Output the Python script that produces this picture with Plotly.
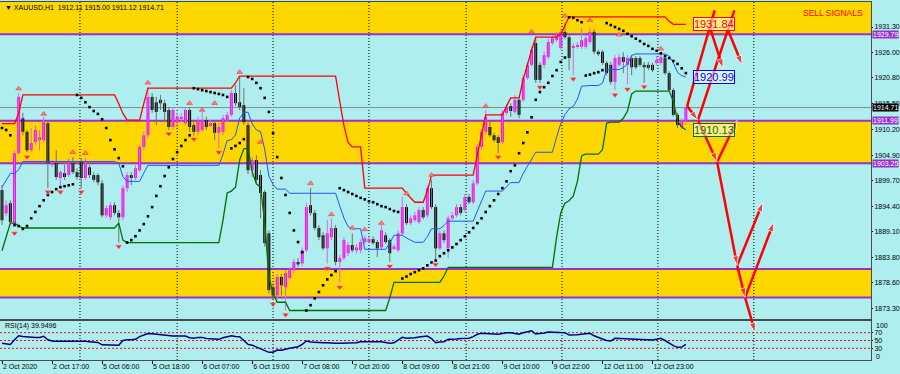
import plotly.graph_objects as go

# ---------------- data (XAUUSD H1) ----------------
open_ = [
    1897.7, 1892.9, 1895.0, 1890.9, 1905.3, 1912.5, 1909.7, 1905.9, 1907.6, 1908.0,
    1908.0, 1911.5, 1902.9, 1903.3, 1900.2, 1901.2, 1900.8, 1903.3, 1901.4, 1903.5,
    1900.2, 1902.4, 1900.8, 1900.8, 1899.1, 1892.5, 1892.1, 1894.6, 1893.0, 1892.1,
    1898.1, 1900.8, 1900.2, 1901.8, 1906.6, 1909.0, 1916.9, 1915.8, 1916.3, 1915.6,
    1914.2, 1910.7, 1911.7, 1912.3, 1911.5, 1914.2, 1911.1, 1909.7, 1910.1, 1912.1,
    1911.1, 1911.5, 1909.5, 1909.7, 1912.1, 1913.2, 1917.7, 1915.8, 1915.2, 1911.1,
    1901.8, 1903.9, 1900.8, 1897.3, 1888.8, 1877.7, 1876.0, 1879.8, 1877.7, 1879.6,
    1881.2, 1882.9, 1882.6, 1885.3, 1894.6, 1893.0, 1889.9, 1888.4, 1885.7, 1888.0,
    1889.9, 1882.9, 1883.7, 1884.7, 1886.4, 1885.3, 1885.3, 1887.0, 1887.2, 1887.6,
    1887.0, 1885.9, 1888.4, 1887.4, 1885.7, 1885.3, 1888.8, 1894.2, 1890.9, 1891.5,
    1891.1, 1893.6, 1892.5, 1898.1, 1894.2, 1885.7, 1888.8, 1885.7, 1891.9, 1892.5,
    1894.2, 1893.6, 1896.3, 1895.2, 1899.1, 1906.6, 1909.7, 1910.7, 1909.0, 1908.6,
    1907.6, 1913.6, 1915.0, 1913.8, 1916.3, 1916.3, 1920.8, 1923.5, 1928.0, 1923.5,
    1923.5, 1925.1, 1928.0, 1928.6, 1927.0, 1930.3, 1929.2, 1927.0, 1927.2, 1927.2,
    1927.2, 1928.2, 1930.3, 1926.2, 1926.2, 1923.9, 1923.5, 1920.0, 1923.5, 1925.1,
    1923.5, 1924.9, 1924.9, 1924.9, 1923.5, 1923.5, 1923.5, 1923.9, 1923.9, 1924.9,
    1921.8, 1918.3, 1913.2, 1910.7, 1912.11,
]
high = [
    1898.7, 1895.6, 1895.6, 1905.9, 1917.7, 1913.6, 1910.1, 1910.5, 1911.1, 1910.1,
    1912.8, 1912.1, 1903.9, 1905.9, 1901.8, 1902.9, 1904.3, 1904.5, 1902.2, 1904.3,
    1904.3, 1902.9, 1901.4, 1901.2, 1899.8, 1894.6, 1895.2, 1895.2, 1893.6, 1898.7,
    1901.4, 1901.4, 1902.9, 1907.0, 1909.7, 1918.9, 1917.7, 1916.9, 1917.3, 1916.3,
    1914.8, 1914.8, 1913.6, 1913.6, 1914.8, 1914.8, 1911.7, 1912.8, 1913.8, 1912.8,
    1912.1, 1912.1, 1911.5, 1913.2, 1913.8, 1918.3, 1919.3, 1921.0, 1918.7, 1911.7,
    1904.5, 1904.9, 1901.8, 1897.7, 1889.4, 1878.5, 1880.4, 1880.4, 1881.2, 1881.8,
    1883.5, 1883.7, 1885.9, 1895.0, 1898.1, 1893.6, 1890.5, 1889.0, 1891.5, 1891.9,
    1890.5, 1884.3, 1888.0, 1887.0, 1888.8, 1886.6, 1887.6, 1888.4, 1888.0, 1888.2,
    1887.4, 1890.5, 1889.0, 1887.8, 1886.6, 1889.4, 1896.3, 1894.8, 1892.5, 1893.2,
    1894.2, 1894.2, 1898.7, 1899.8, 1894.8, 1889.4, 1889.4, 1892.5, 1893.2, 1894.8,
    1894.8, 1896.9, 1896.9, 1899.8, 1907.2, 1910.3, 1914.2, 1912.1, 1909.5, 1909.0,
    1914.2, 1915.4, 1915.6, 1917.3, 1916.9, 1921.4, 1924.1, 1927.2, 1929.0, 1924.1,
    1926.2, 1928.8, 1929.6, 1930.3, 1931.0, 1932.1, 1929.6, 1928.0, 1928.2, 1931.1,
    1929.6, 1931.1, 1930.9, 1926.6, 1926.6, 1924.3, 1924.1, 1925.5, 1925.7, 1926.1,
    1925.5, 1925.5, 1925.3, 1925.3, 1924.1, 1924.1, 1923.9, 1925.3, 1925.7, 1925.5,
    1922.2, 1918.7, 1913.6, 1912.5, 1915.00,
]
low = [
    1890.5, 1892.3, 1890.5, 1890.5, 1904.9, 1909.0, 1905.5, 1905.5, 1907.0, 1905.9,
    1907.6, 1898.1, 1902.4, 1899.8, 1898.1, 1899.8, 1900.4, 1901.0, 1899.8, 1898.1,
    1899.8, 1900.2, 1899.3, 1898.7, 1892.1, 1891.9, 1891.5, 1892.5, 1886.9, 1891.5,
    1897.3, 1898.7, 1899.8, 1901.4, 1906.0, 1908.4, 1913.6, 1911.1, 1914.2, 1911.7,
    1910.1, 1910.1, 1910.7, 1911.7, 1911.1, 1909.7, 1909.0, 1909.0, 1909.7, 1910.1,
    1910.7, 1908.0, 1906.3, 1909.0, 1911.7, 1912.8, 1915.0, 1914.2, 1911.1, 1901.0,
    1900.4, 1899.1, 1891.9, 1886.1, 1876.4, 1875.2, 1875.2, 1876.0, 1872.9, 1879.1,
    1880.6, 1881.8, 1882.0, 1884.9, 1892.5, 1889.4, 1887.4, 1885.3, 1882.6, 1887.4,
    1882.2, 1878.5, 1883.3, 1884.1, 1884.9, 1884.7, 1884.7, 1886.6, 1886.8, 1886.4,
    1883.9, 1885.5, 1886.6, 1882.9, 1885.3, 1884.9, 1888.4, 1890.5, 1890.5, 1891.1,
    1890.7, 1891.7, 1892.1, 1893.8, 1883.3, 1885.3, 1886.8, 1883.7, 1891.5, 1892.1,
    1892.5, 1893.2, 1894.8, 1894.8, 1898.7, 1906.0, 1909.2, 1908.6, 1907.6, 1905.3,
    1907.2, 1913.2, 1912.8, 1913.4, 1912.5, 1915.8, 1920.4, 1923.1, 1919.8, 1919.8,
    1922.8, 1924.7, 1927.6, 1928.2, 1926.6, 1928.8, 1922.4, 1921.4, 1926.8, 1926.8,
    1926.8, 1927.8, 1925.7, 1925.3, 1923.5, 1921.4, 1919.4, 1918.3, 1923.1, 1921.8,
    1919.5, 1921.4, 1922.6, 1923.1, 1919.8, 1922.4, 1922.0, 1923.5, 1923.5, 1921.4,
    1917.9, 1912.8, 1910.5, 1910.3, 1911.12,
]
close = [
    1891.5, 1894.6, 1891.1, 1905.3, 1916.9, 1909.7, 1905.9, 1907.4, 1910.1, 1908.6,
    1911.7, 1903.3, 1903.5, 1900.4, 1901.4, 1900.4, 1903.5, 1901.4, 1900.4, 1900.2,
    1903.3, 1900.8, 1899.8, 1899.3, 1892.5, 1894.0, 1894.6, 1893.0, 1892.1, 1898.1,
    1900.8, 1900.2, 1902.2, 1906.6, 1909.0, 1916.9, 1914.2, 1913.8, 1915.6, 1913.8,
    1910.7, 1914.2, 1912.8, 1912.8, 1914.2, 1910.7, 1909.7, 1912.1, 1912.1, 1910.7,
    1911.5, 1909.5, 1910.7, 1912.5, 1913.2, 1917.7, 1915.6, 1914.8, 1911.7, 1901.8,
    1903.9, 1899.8, 1897.1, 1886.8, 1877.1, 1876.0, 1879.8, 1878.1, 1880.6, 1881.2,
    1882.9, 1882.4, 1885.3, 1894.2, 1893.0, 1889.9, 1888.0, 1885.7, 1888.8, 1889.9,
    1882.9, 1883.7, 1887.4, 1886.4, 1885.3, 1885.9, 1887.0, 1887.8, 1887.6, 1886.8,
    1885.7, 1889.4, 1887.0, 1884.7, 1886.1, 1888.8, 1894.2, 1890.9, 1891.9, 1892.5,
    1893.6, 1892.1, 1898.1, 1894.2, 1885.7, 1888.8, 1887.4, 1891.9, 1892.5, 1894.2,
    1893.0, 1896.3, 1895.2, 1899.1, 1906.6, 1909.7, 1912.8, 1909.0, 1908.0, 1907.4,
    1913.6, 1914.8, 1914.0, 1916.3, 1913.2, 1920.8, 1923.5, 1926.6, 1920.4, 1920.4,
    1925.5, 1928.2, 1929.0, 1929.7, 1930.3, 1929.2, 1924.9, 1927.4, 1927.6, 1928.6,
    1929.0, 1930.3, 1926.2, 1925.7, 1923.9, 1921.8, 1920.0, 1924.9, 1925.1, 1924.1,
    1924.9, 1923.0, 1923.0, 1923.5, 1923.0, 1922.9, 1922.4, 1924.5, 1925.1, 1921.8,
    1918.3, 1913.2, 1911.1, 1912.1, 1914.71,
]
# upper channel (red), lower channel (green)
red_line = [
    1911.4, 1911.4, 1911.4, 1911.4, 1913.5, 1917.3, 1917.3, 1917.3, 1917.3, 1917.3,
    1917.3, 1917.3, 1917.3, 1917.3, 1917.3, 1917.3, 1917.3, 1917.3, 1917.3, 1917.3,
    1917.3, 1917.3, 1917.3, 1917.3, 1917.3, 1917.3, 1917.3, 1917.3, 1915.5, 1913.5,
    1912.1, 1912.1, 1912.1, 1912.1, 1915.5, 1918.7, 1918.7, 1918.7, 1918.7, 1918.7,
    1918.7, 1918.7, 1918.7, 1918.7, 1918.7, 1918.7, 1918.7, 1918.7, 1918.7, 1918.7,
    1918.7, 1918.7, 1918.7, 1918.7, 1918.7, 1918.7, 1919.8, 1921.2, 1921.2, 1921.2,
    1921.2, 1921.2, 1921.2, 1921.2, 1921.2, 1921.2, 1921.2, 1921.2, 1921.2, 1921.2,
    1921.2, 1921.2, 1921.2, 1921.2, 1921.2, 1921.2, 1921.2, 1921.2, 1921.2, 1921.2,
    1921.2, 1916.0, 1911.0, 1907.5, 1906.6, 1906.6, 1906.6, 1898.1, 1898.1, 1898.1,
    1898.1, 1898.1, 1898.1, 1898.1, 1898.1, 1898.1, 1898.1, 1897.0, 1896.0, 1895.2,
    1895.2, 1895.2, 1897.5, 1900.8, 1900.8, 1900.8, 1900.8, 1900.8, 1900.8, 1900.8,
    1900.8, 1900.8, 1900.8, 1900.8, 1905.0, 1909.0, 1913.2, 1913.2, 1913.2, 1913.2,
    1913.2, 1915.0, 1916.7, 1916.7, 1916.7, 1920.5, 1923.6, 1926.5, 1929.2, 1929.2,
    1929.2, 1929.2, 1929.2, 1929.2, 1929.8, 1931.5, 1933.4, 1933.4, 1933.4, 1933.4,
    1933.4, 1933.4, 1933.4, 1933.4, 1933.4, 1933.4, 1933.4, 1933.4, 1933.4, 1933.4,
    1933.4, 1933.4, 1933.4, 1933.4, 1933.4, 1933.4, 1933.4, 1933.4, 1933.4, 1933.4,
    1932.5, 1931.84, 1931.84, 1931.84, 1931.84,
]
green_line = [
    1885.2, 1888.0, 1890.9, 1890.9, 1890.3, 1889.9, 1889.9, 1889.9, 1889.9, 1889.9,
    1889.9, 1889.9, 1889.9, 1889.9, 1889.9, 1889.9, 1889.9, 1889.9, 1889.9, 1889.9,
    1889.9, 1889.9, 1889.9, 1889.9, 1889.9, 1889.9, 1889.9, 1889.9, 1890.9, 1887.4,
    1886.9, 1886.9, 1886.9, 1886.9, 1886.9, 1886.9, 1886.9, 1886.9, 1886.9, 1886.9,
    1886.9, 1886.9, 1886.9, 1886.9, 1886.9, 1886.9, 1886.9, 1886.9, 1886.9, 1886.9,
    1886.9, 1886.9, 1886.9, 1891.5, 1897.1, 1897.5, 1898.3, 1903.9, 1906.2, 1906.3,
    1901.5, 1899.0, 1898.3, 1891.0, 1880.0, 1876.5, 1874.6, 1874.6, 1874.6, 1872.9,
    1872.9, 1872.9, 1872.9, 1872.9, 1872.9, 1872.9, 1872.9, 1872.9, 1872.9, 1872.9,
    1872.9, 1872.9, 1872.9, 1872.9, 1872.9, 1872.9, 1872.9, 1872.9, 1872.9, 1872.9,
    1872.9, 1872.9, 1872.9, 1875.5, 1878.7, 1878.7, 1878.7, 1878.7, 1878.7, 1878.7,
    1878.7, 1878.7, 1878.7, 1878.7, 1878.7, 1878.7, 1880.0, 1881.8, 1881.8, 1881.8,
    1881.8, 1881.8, 1881.8, 1881.8, 1881.8, 1881.8, 1881.8, 1881.8, 1881.8, 1881.8,
    1881.8, 1881.8, 1881.8, 1881.8, 1881.8, 1881.8, 1881.8, 1881.8, 1881.8, 1881.8,
    1881.8, 1881.8, 1881.8, 1888.0, 1893.0, 1895.0, 1895.5, 1896.5, 1899.5, 1904.8,
    1905.1, 1905.1, 1905.1, 1905.1, 1906.0, 1911.5, 1911.7, 1911.7, 1911.7, 1912.5,
    1914.0, 1917.5, 1918.1, 1918.1, 1918.1, 1918.1, 1918.1, 1918.1, 1918.1, 1918.1,
    1918.1, 1916.0, 1912.0, 1910.7, 1910.13,
]
# parabolic SAR dots
sar = [
    1910.5, 1910.1, 1909.0, 1890.5, 1890.3, 1889.7, 1890.3, 1891.9, 1893.2, 1894.4,
    1895.6, 1896.7, 1897.3, 1897.9, 1898.3, 1898.5, 1898.7, 1898.9, 1917.3, 1916.7,
    1915.8, 1914.8, 1914.0, 1913.4, 1912.3, 1910.5, 1908.0, 1906.1, 1904.3, 1902.6,
    1886.9, 1887.4, 1888.2, 1889.4, 1890.7, 1892.3, 1894.2, 1896.5, 1898.5, 1900.6,
    1902.4, 1904.1, 1905.5, 1906.8, 1908.0, 1909.0, 1918.7, 1918.5, 1918.3, 1918.1,
    1917.9, 1917.7, 1917.5, 1917.3, 1916.9, 1906.3, 1906.8, 1907.4, 1908.2, 1921.0,
    1920.6, 1919.8, 1918.7, 1916.7, 1913.8, 1909.4, 1904.5, 1900.2, 1896.7, 1893.0,
    1889.4, 1887.0, 1884.9, 1872.9, 1874.0, 1875.4, 1876.7, 1878.1, 1879.3, 1880.2,
    1881.0, 1898.1, 1897.7, 1897.3, 1896.9, 1896.5, 1896.1, 1895.8, 1895.4, 1895.2,
    1894.8, 1894.4, 1894.2, 1893.8, 1893.4, 1893.2, 1879.5, 1879.9, 1880.4, 1880.8,
    1881.2, 1881.6, 1882.2, 1882.8, 1883.2, 1884.1, 1884.7, 1885.3, 1885.9, 1886.6,
    1887.4, 1888.2, 1889.0, 1889.9, 1890.9, 1891.9, 1893.2, 1894.4, 1895.6, 1896.9,
    1898.1, 1899.5, 1901.6, 1902.8, 1905.3, 1907.4, 1909.6, 1912.7, 1916.3, 1917.9,
    1918.9, 1919.8, 1921.2, 1922.4, 1924.1, 1925.0, 1933.3, 1933.2, 1932.7, 1932.3,
    1921.3, 1921.5, 1921.8, 1922.0, 1922.4, 1932.1, 1931.7, 1931.3, 1930.9, 1930.5,
    1929.9, 1929.4, 1928.9, 1928.4, 1927.8, 1927.4, 1926.8, 1926.4, 1925.9, 1925.3,
    1924.9, 1924.3, 1923.7, 1922.8, 1921.8,
]
rsi = [
    43, 41, 40, 52, 62, 60, 59, 58, 58, 58,
    61, 52, 49, 48, 48, 48, 49, 48, 48, 48,
    48, 47, 46, 45, 39, 38.5, 39, 38.5, 38, 50,
    52, 52, 53, 60, 64, 68, 67, 66, 65, 63,
    61.5, 61.5, 61.5, 61.5, 61.5, 57, 55.6, 58, 58, 55,
    54, 53, 53, 57, 59, 62, 60, 59.8, 50, 40,
    38, 33, 30, 24, 19.7, 20, 25.6, 25, 28, 30,
    32, 34, 40, 48.7, 46, 45, 44, 44, 44.5, 43,
    42.8, 42.8, 42.8, 42.8, 42.8, 44, 47, 47, 47, 47,
    47, 47, 45, 42.8, 44, 50, 58, 56, 55.6, 57,
    59, 60, 61.5, 55, 44.4, 46, 47, 53, 53, 54,
    55, 55.6, 56, 60, 66, 68.4, 68, 66, 66, 66,
    68, 70, 70, 68, 66, 70, 73, 75, 66.7, 67,
    69, 71.8, 71.8, 71.8, 71.8, 70, 64, 64, 65, 66,
    67, 68.4, 62, 57, 54, 50, 48.7, 55.6, 55, 54,
    54, 53, 53, 52, 51, 51, 51, 53, 55.6, 50,
    43, 37, 32.5, 33, 39.95,
]
# fractal arrows above highs / below lows
up_idx = [4, 10, 17, 20, 35, 45, 48, 51, 57, 62, 74, 79, 84, 87, 91, 97, 103, 116, 127, 135, 141, 148, 158]
up_price = [1918.6, 1913.4, 1905.5, 1905.3, 1919.8, 1915.6, 1914.2, 1915.6, 1922.0, 1907.6, 1899.1, 1892.7,
            1889.9, 1889.6, 1890.9, 1897.0, 1900.8, 1915.0, 1930.3, 1933.6, 1932.7, 1929.7, 1926.8]
dn_idx = [3, 6, 11, 14, 19, 28, 40, 46, 52, 65, 68, 78, 81, 93, 104, 119, 129, 137, 147, 150, 154]
dn_price = [1888.8, 1904.5, 1897.3, 1897.3, 1897.3, 1886.1, 1909.3, 1908.2, 1905.5, 1874.2, 1872.0, 1881.6,
            1877.7, 1882.0, 1882.4, 1904.5, 1918.9, 1920.6, 1917.3, 1918.5, 1919.0]

# forecast arrows (tail -> head)
arrow_x0 = [164.3, 164.3, 166.9, 169.8, 174.1, 166.9, 171.5, 171.5, 176.3, 176.3, 178.2, 178.2]
arrow_y0 = [1915.0, 1915.0, 1912.1, 1931.1, 1930.7, 1912.1, 1903.5, 1903.5, 1882.2, 1882.2, 1875.6, 1875.6]
arrow_x1 = [166.9, 171.5, 176.3, 172.9, 177.5, 171.5, 176.3, 176.3, 182.5, 178.2, 185.1, 180.6]
arrow_y1 = [1912.1, 1936.5, 1936.5, 1922.8, 1923.5, 1903.5, 1912.1, 1882.2, 1895.2, 1875.6, 1891.1, 1868.4]

time_idx = [0, 12, 24, 36, 48, 60, 72, 84, 96, 108, 120, 132, 144, 156]
time_labels = ["2 Oct 2020", "2 Oct 17:00", "5 Oct 06:00", "5 Oct 18:00", "6 Oct 07:00", "6 Oct 19:00",
               "7 Oct 08:00", "7 Oct 20:00", "8 Oct 09:00", "8 Oct 21:00", "9 Oct 10:00", "9 Oct 22:00",
               "12 Oct 11:00", "12 Oct 23:00"]
grid_idx = [18.7, 42.0, 65.0, 88.0, 111.3, 134.3, 157.3, 180.3]
price_ticks = [1873.30, 1878.60, 1883.80, 1889.10, 1894.40, 1899.70, 1904.90, 1910.20,
               1915.50, 1920.80, 1926.00, 1931.30]
zone_lo = [1929.79, 1903.25, 1875.60]
zone_hi = [1940.00, 1911.99, 1881.45]
level_lines = [1929.79, 1911.99, 1903.25, 1881.45, 1875.60]
level_labels = [1929.79, 1911.99, 1903.25]
bid_price = 1914.71
rsi_levels = [70, 50, 30]
rsi_ticks = [30, 50, 70]

# ---------------- geometry / style ----------------
FW, FH = 900, 374
PLOT_R = 871 / FW
MAIN_DOM = [1 - 319 / FH, 1 - 2 / FH]
RSI_DOM = [1 - 360 / FH, 1 - 321 / FH]
X_RANGE = [-0.48, 208.4]
Y_RANGE = [1871.15, 1936.45]
per_paper = (Y_RANGE[1] - Y_RANGE[0]) / (MAIN_DOM[1] - MAIN_DOM[0])
Y3_RANGE = [Y_RANGE[0] - MAIN_DOM[0] * per_paper, Y_RANGE[1]]

BG = "#AFEEEE"
GOLD = "#FFD700"
PURPLE = "#9932CC"
FRAME = "#4A4A4A"
NARROW = "Liberation Sans Narrow, Arial Narrow, Liberation Sans, Arial, sans-serif"
AXFONT = dict(family=NARROW, size=7, color="black")

n = len(close)
bars = list(range(n))
blue_line = [(r + g) / 2 for r, g in zip(red_line, green_line)]

fig = go.Figure()

# wicks
def wicks(sel):
    xs, ys = [], []
    for i in sel:
        xs += [i, i, None]
        ys += [low[i], high[i], None]
    return xs, ys

bull = [i for i in bars if close[i] >= open_[i]]
bear = [i for i in bars if close[i] < open_[i]]
wx, wy = wicks(bear)
fig.add_trace(go.Scatter(x=wx, y=wy, mode="lines", line=dict(color="#707070", width=1), hoverinfo="skip"))
wx, wy = wicks(bull)
fig.add_trace(go.Scatter(x=wx, y=wy, mode="lines", line=dict(color="#D070D0", width=1), hoverinfo="skip"))

# bodies
bases = [min(o, c) for o, c in zip(open_, close)]
heights = [max(abs(c - o), 0.2) for o, c in zip(open_, close)]
colors = ["#FF00FF" if c >= o else "#000000" for o, c in zip(open_, close)]
fig.add_trace(go.Bar(x=bars, y=heights, base=bases, width=0.7,
                     marker=dict(color=colors, line=dict(width=0)), hoverinfo="skip"))

# channel lines
fig.add_trace(go.Scatter(x=bars, y=red_line, mode="lines", line=dict(color="#FF0000", width=1.3), hoverinfo="skip"))
fig.add_trace(go.Scatter(x=bars, y=blue_line, mode="lines", line=dict(color="#2255FF", width=1), hoverinfo="skip"))
fig.add_trace(go.Scatter(x=bars, y=green_line, mode="lines", line=dict(color="#007000", width=1.3), hoverinfo="skip"))

# SAR
fig.add_trace(go.Scatter(x=bars, y=sar, mode="markers",
                         marker=dict(symbol="square", size=2.6, color="black"), hoverinfo="skip"))

# fractal arrows
fig.add_trace(go.Scatter(x=up_idx, y=up_price, mode="markers",
                         marker=dict(symbol="triangle-up", size=5, color="#F08090",
                                     line=dict(color="#FF3030", width=0.6)), hoverinfo="skip"))
fig.add_trace(go.Scatter(x=dn_idx, y=dn_price, mode="markers",
                         marker=dict(symbol="triangle-down", size=5, color="#FF2020",
                                     line=dict(color="#F08080", width=0.6)), hoverinfo="skip"))

# RSI
fig.add_trace(go.Scatter(x=bars, y=rsi, mode="lines", line=dict(color="#000080", width=1.5),
                         xaxis="x2", yaxis="y2", hoverinfo="skip"))

# forecast arrows on a full-height overlay scale
ax_, ay_, asz = [], [], []
for x0, y0, x1, y1 in zip(arrow_x0, arrow_y0, arrow_x1, arrow_y1):
    ax_ += [x0, x1, None]
    ay_ += [y0, y1, None]
    asz += [0, 10, 0]
fig.add_trace(go.Scatter(x=ax_, y=ay_, mode="lines+markers", xaxis="x3", yaxis="y3",
                         line=dict(color="#FF0000", width=2.5),
                         marker=dict(symbol="arrow", size=asz, angleref="previous", color="#FF0000"),
                         cliponaxis=False, hoverinfo="skip"))

shapes = []
for lo_, hi_ in zip(zone_lo, zone_hi):
    shapes.append(dict(type="rect", xref="paper", x0=0, x1=PLOT_R, yref="y", y0=lo_, y1=min(hi_, Y_RANGE[1]),
                       fillcolor=GOLD, line=dict(width=0), layer="below"))
for g in grid_idx:
    shapes.append(dict(type="line", xref="x", x0=g, x1=g, yref="paper", y0=RSI_DOM[0], y1=MAIN_DOM[1],
                       line=dict(color="black", width=1, dash="1px,2px"), layer="below"))
shapes.append(dict(type="line", xref="paper", x0=0, x1=PLOT_R, yref="y", y0=bid_price, y1=bid_price,
                   line=dict(color="#7F8F8F", width=1), layer="below"))
for lv in level_lines:
    shapes.append(dict(type="line", xref="paper", x0=0, x1=PLOT_R, yref="y", y0=lv, y1=lv,
                       line=dict(color=PURPLE, width=2), layer="below"))
for lv in rsi_levels:
    shapes.append(dict(type="line", xref="paper", x0=0, x1=PLOT_R, yref="y2", y0=lv, y1=lv,
                       line=dict(color="#FF0000", width=1, dash="2px,2px"), layer="below"))

ann = []
ann.append(dict(xref="paper", yref="paper", x=3 / FW, y=1 - 8 / FH, xanchor="left", yanchor="middle",
                text="\u25BC XAUUSD,H1  1912.11 1915.00 1911.12 1914.71", showarrow=False,
                font=dict(family=NARROW, size=7, color="black")))
ann.append(dict(xref="paper", yref="paper", x=865 / FW, y=1 - 13 / FH, xanchor="right", yanchor="middle",
                text="SELL SIGNALS", showarrow=False,
                font=dict(family="Liberation Sans, Arial, sans-serif", size=8.5, color="#FF0000")))
ann.append(dict(xref="paper", yref="paper", x=3 / FW, y=1 - 326 / FH, xanchor="left", yanchor="middle",
                text="RSI(14) 39.9496", showarrow=False, font=AXFONT))
# end-of-line value boxes
for val, col in [(red_line[-1], "#FF0000"), (blue_line[-1], "#0000FF"), (green_line[-1], "#007000")]:
    ann.append(dict(xref="x", yref="y", x=165.6, y=val, xanchor="left", yanchor="middle",
                    text=f"{val:.2f}", showarrow=False, bgcolor="rgba(255,255,255,0.55)",
                    bordercolor=col, borderwidth=1, borderpad=0,
                    font=dict(family=NARROW, size=11, color=col)))
# price-axis boxes
for lv in level_labels:
    ann.append(dict(xref="paper", yref="y", x=PLOT_R, xshift=1, y=lv, xanchor="left", yanchor="middle",
                    text=f"{lv:.2f}", showarrow=False, bgcolor=PURPLE, borderpad=0,
                    font=dict(family=NARROW, size=7, color="white")))
ann.append(dict(xref="paper", yref="y", x=PLOT_R, xshift=1, y=bid_price, xanchor="left", yanchor="middle",
                text=f"{bid_price:.2f}", showarrow=False, bgcolor="black", borderpad=0,
                font=dict(family=NARROW, size=7, color="white")))
# RSI 100 / 0 labels (drawn inside the window like MT4)
ann.append(dict(xref="paper", yref="y2", x=PLOT_R, xshift=3, y=100, yshift=-4, xanchor="left",
                yanchor="middle", text="100", showarrow=False, font=AXFONT))
ann.append(dict(xref="paper", yref="y2", x=PLOT_R, xshift=3, y=0, yshift=4, xanchor="left",
                yanchor="middle", text="0", showarrow=False, font=AXFONT))

axis_common = dict(showgrid=False, zeroline=False, showline=True, mirror=True,
                   linecolor=FRAME, linewidth=1, automargin=False)

fig.update_layout(
    width=FW, height=FH, margin=dict(l=0, r=0, t=0, b=0, autoexpand=False),
    paper_bgcolor=BG, plot_bgcolor="rgba(0,0,0,0)", showlegend=False,
    xaxis=dict(domain=[0, PLOT_R], range=X_RANGE, anchor="y", showticklabels=False, ticks="", **axis_common),
    yaxis=dict(domain=MAIN_DOM, range=Y_RANGE, anchor="x", side="right",
               tickvals=price_ticks, ticktext=[f"{v:.2f}" for v in price_ticks],
               ticks="outside", ticklen=1, tickcolor="black", tickfont=AXFONT, **axis_common),
    xaxis2=dict(domain=[0, PLOT_R], range=X_RANGE, anchor="y2", tickangle=0,
                tickvals=time_idx, ticktext=time_labels, ticklabelposition="outside right",
                ticks="outside", ticklen=3, tickcolor="black", tickfont=AXFONT, **axis_common),
    yaxis2=dict(domain=RSI_DOM, range=[0, 100], anchor="x2", side="right",
                tickvals=rsi_ticks, ticktext=[str(v) for v in rsi_ticks],
                ticks="outside", ticklen=1, tickcolor="black", tickfont=AXFONT, **axis_common),
    xaxis3=dict(domain=[0, PLOT_R], range=X_RANGE, anchor="y3", visible=False),
    yaxis3=dict(domain=[0, MAIN_DOM[1]], range=Y3_RANGE, anchor="x3", visible=False),
    shapes=shapes, annotations=ann,
)

fig.write_html("out.html", config={"displayModeBar": False})
